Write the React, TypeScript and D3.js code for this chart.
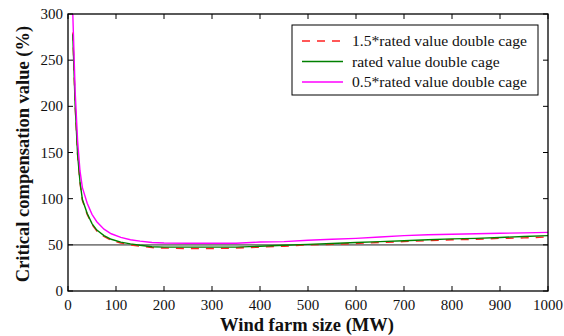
import React from "react";
import * as d3 from "d3";

// wind farm size (MW)
const sizes = [10, 15, 20, 25, 30, 40, 50, 60, 75, 90, 110, 130, 150, 175, 200, 250, 300, 350, 400, 450, 500, 550, 600, 650, 700, 750, 800, 850, 900, 950, 1000];
// critical compensation value (%)
const high = [280, 200, 147, 117, 98, 83, 72, 65, 59, 55, 52, 50, 48.5, 47, 46.5, 46, 46, 46.5, 47.5, 48.5, 50, 50.5, 51.5, 52.5, 53.5, 54.5, 55.5, 56, 57, 57.5, 58.5];
const rated = [278, 200, 148, 118, 99, 84, 73, 66, 60, 56, 53, 51, 49.5, 48, 47.5, 47.5, 47.5, 47.5, 48.5, 49.5, 50.5, 51.5, 52.5, 53.5, 54.5, 55.5, 56.5, 57, 58, 59, 60];
const low = [300, 215, 163, 130, 112, 95, 83, 75, 67, 62, 58, 55.5, 54, 52.5, 52, 51.7, 51.7, 51.7, 53, 53.5, 55, 56, 57, 58.5, 60, 61, 61.5, 62, 62.5, 63, 63.5];
const xTicks = [0, 100, 200, 300, 400, 500, 600, 700, 800, 900, 1000];
const yTicks = [0, 50, 100, 150, 200, 250, 300];
const refLevel = 50;

const seriesList = [
  { name: "1.5*rated value double cage", values: high, color: "#ff2020", dash: "8,7" },
  { name: "rated value double cage", values: rated, color: "#008000", dash: "" },
  { name: "0.5*rated value double cage", values: low, color: "#ff00ff", dash: "" },
];

const W = 564, H = 336;
const left = 68, right = 548, top = 14, bottom = 291;
const font = "Liberation Serif, DejaVu Serif, serif";

export default function App() {
  const x = d3.scaleLinear().domain([0, 1000]).range([left, right]);
  const y = d3.scaleLinear().domain([0, 300]).range([bottom, top]);
  const line = d3.line<number>().x((d, i) => x(sizes[i])).y((d) => y(d));

  return (
    <svg width={W} height={H} style={{ position: "absolute", left: 0, top: 0 }}>
      <rect width={W} height={H} fill="#fff" />
      <defs>
        <clipPath id="plot">
          <rect x={left} y={top} width={right - left} height={bottom - top} />
        </clipPath>
      </defs>
      <line x1={left} x2={right} y1={y(refLevel)} y2={y(refLevel)} stroke="#808080" strokeWidth={1.6} />
      <g clipPath="url(#plot)">
        {seriesList.map((s) => (
          <path key={s.name} d={line(s.values) || ""} fill="none" stroke={s.color} strokeWidth={1.4} strokeDasharray={s.dash} />
        ))}
      </g>
      {/* box and ticks */}
      <rect x={left} y={top} width={right - left} height={bottom - top} fill="none" stroke="#000" strokeWidth={1.3} />
      <g fontFamily={font} fill="#111">
        {xTicks.map((t) => (
          <g key={"x" + t}>
            <line x1={x(t)} x2={x(t)} y1={bottom} y2={bottom - 5} stroke="#000" />
            <line x1={x(t)} x2={x(t)} y1={top} y2={top + 5} stroke="#000" />
            <text x={x(t)} y={bottom + 19} fontSize={15} textAnchor="middle">{t}</text>
          </g>
        ))}
        {yTicks.map((t) => (
          <g key={"y" + t}>
            <line x1={left} x2={left + 5} y1={y(t)} y2={y(t)} stroke="#000" />
            <line x1={right} x2={right - 5} y1={y(t)} y2={y(t)} stroke="#000" />
            <text x={left - 5} y={y(t) + 5} fontSize={15} textAnchor="end">{t}</text>
          </g>
        ))}
        <text x={307} y={331} fontSize={18.5} fontWeight="bold" textAnchor="middle">Wind farm size (MW)</text>
        <text transform={`translate(29, 154) rotate(-90)`} fontSize={18.5} fontWeight="bold" textAnchor="middle">Critical compensation value (%)</text>
        {/* legend */}
        <rect x={292} y={25} width={246} height={70} fill="#fff" stroke="#000" strokeWidth={1} />
        {seriesList.map((s, i) => (
          <g key={"l" + i}>
            <line x1={302} x2={343} y1={41 + i * 20.5} y2={41 + i * 20.5} stroke={s.color} strokeWidth={1.3} strokeDasharray={s.dash} />
            <text x={352} y={46 + i * 20.5} fontSize={15.6}>{s.name}</text>
          </g>
        ))}
      </g>
    </svg>
  );
}
